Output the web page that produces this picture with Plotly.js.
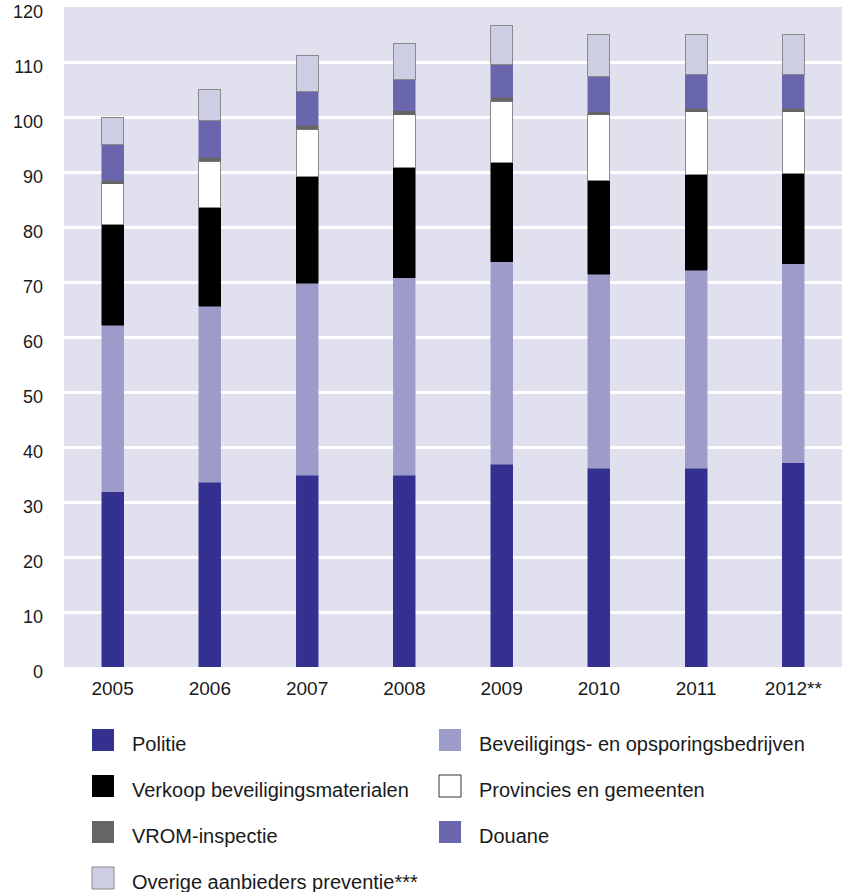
<!DOCTYPE html>
<html>
<head>
<meta charset="utf-8">
<script src="https://cdn.plot.ly/plotly-3.0.1.min.js"></script>
<style>
  html, body { margin: 0; padding: 0; background: #ffffff; }
  #chart { width: 842px; height: 892px; }
</style>
</head>
<body>
<div id="chart"></div>
<script>
// ---- Data ----
const years = ["2005", "2006", "2007", "2008", "2009", "2010", "2011", "2012**"];

const politie       = [31.9, 33.6, 34.9, 34.9, 36.9, 36.1, 36.1, 37.1];
const beveiligings  = [30.2, 32.0, 34.9, 35.9, 36.8, 35.3, 36.0, 36.2];
const verkoop       = [18.3, 18.0, 19.4, 20.0, 18.1, 17.1, 17.4, 16.5];
const provincies    = [7.5, 8.4, 8.6, 9.6, 11.1, 11.9, 11.5, 11.2];
const vrom          = [0.6, 0.7, 0.7, 0.7, 0.7, 0.6, 0.6, 0.6];
const douane        = [6.5, 6.6, 6.2, 5.8, 5.9, 6.3, 6.1, 6.1];
const overige       = [4.9, 5.7, 6.5, 6.4, 7.1, 7.7, 7.3, 7.3];

const seriesNames = [
  "Politie",
  "Beveiligings- en opsporingsbedrijven",
  "Verkoop beveiligingsmaterialen",
  "Provincies en gemeenten",
  "VROM-inspectie",
  "Douane",
  "Overige aanbieders preventie***"
];
const yTicks = [0, 10, 20, 30, 40, 50, 60, 70, 80, 90, 100, 110, 120];

// ---- Styles ----
const seriesValues = [politie, beveiligings, verkoop, provincies, vrom, douane, overige];
const fills   = ["#33308f", "#9c9bca", "#000000", "#ffffff", "#666666", "#6966ad", "#cdcee4"];
const borders = ["#3b3896", "#a3a2cd", "#000000", "#8a8a8a", "#666666", "#6d6ab0", "#8a8a8a"];
const borderW = [0.5, 0.5, 0.5, 1, 0.5, 0.5, 1];

const FONT = "'Liberation Sans', Arial, Helvetica, sans-serif";

const traces = seriesValues.map((vals, i) => ({
  type: "bar",
  name: seriesNames[i],
  x: years,
  y: vals,
  width: 0.227,
  marker: { color: fills[i], line: { color: borders[i], width: borderW[i] } },
  showlegend: false,
  hoverinfo: "x+y+name"
}));

// ---- Custom legend (two columns, row-major) ----
const W = 842, H = 892;
const ml = 64, mr = 0, mt = 7, mb = 225;
const pw = W - ml - mr, ph = H - mt - mb;
const px2x = p => (p - ml) / pw;
const py2y = p => (H - mb - p) / ph;

const shapes = [];
const annotations = [];
const colSquareX = [92, 439];
const colTextX = [130, 477];
const rowTop = [729, 775, 821, 867];
const sq = 22;
seriesNames.forEach((name, i) => {
  const col = i % 2, row = Math.floor(i / 2);
  const x0 = colSquareX[col], y0 = rowTop[row];
  const outlined = (i === 3 || i === 6);
  shapes.push({
    type: "rect", xref: "paper", yref: "paper",
    x0: px2x(x0), x1: px2x(x0 + sq),
    y0: py2y(y0 + sq), y1: py2y(y0),
    fillcolor: fills[i],
    line: { color: outlined ? (i === 3 ? "#333333" : "#8a8a8a") : fills[i], width: outlined ? 1 : 0 }
  });
  annotations.push({
    xref: "paper", yref: "paper",
    x: px2x(colTextX[col]), y: py2y(y0 + sq / 2 + 4),
    xanchor: "left", yanchor: "middle",
    text: name, showarrow: false,
    font: { family: FONT, size: 20, color: "#1a1a1a" }
  });
});

const layout = {
  width: W, height: H,
  margin: { l: ml, r: mr, t: mt, b: mb, pad: 0 },
  paper_bgcolor: "#ffffff",
  plot_bgcolor: "#e1e0ef",
  barmode: "stack",
  showlegend: false,
  font: { family: FONT, color: "#1a1a1a" },
  xaxis: {
    type: "category",
    range: [-0.5, 7.5],
    showgrid: false, zeroline: false, showline: false,
    ticks: "",
    tickfont: { family: FONT, size: 19, color: "#1a1a1a" },
    ticklabelstandoff: 8,
    fixedrange: true
  },
  yaxis: {
    range: [0, 120],
    tickvals: yTicks,
    ticktext: yTicks.map(String),
    showgrid: true, gridcolor: "#ffffff", gridwidth: 3,
    zeroline: false, showline: false,
    ticks: "",
    tickfont: { family: FONT, size: 18, color: "#1a1a1a" },
    ticklabelstandoff: 20,
    ticklabelshift: 5,
    ticklabeloverflow: "allow",
    fixedrange: true
  },
  shapes: shapes,
  annotations: annotations
};

Plotly.newPlot("chart", traces, layout, { displayModeBar: false, staticPlot: true });
</script>
</body>
</html>
